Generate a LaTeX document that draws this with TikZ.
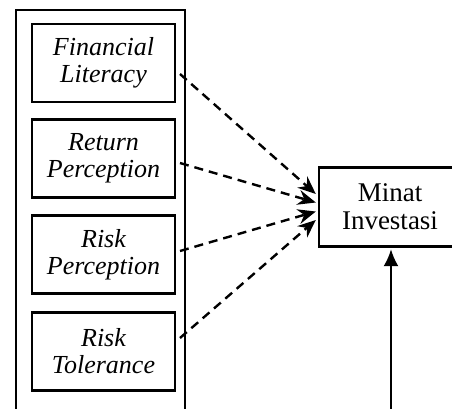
\documentclass[tikz,border=0pt]{standalone}
\usepackage{fontspec}
\setmainfont{Liberation Serif}
\usetikzlibrary{arrows.meta}
\begin{document}
\begin{tikzpicture}[x=1pt,y=-1pt,
  inner/.style={draw, line width=2.4pt, minimum width=143pt, minimum height=78pt, align=center, inner sep=0pt, font=\fontsize{26}{27}\selectfont\itshape},
  target/.style={draw, line width=2.4pt, minimum width=142pt, minimum height=79pt, align=center, inner sep=0pt, font=\fontsize{27}{28}\selectfont},
  frame/.style={draw, line width=2.4pt, minimum width=169pt, minimum height=420pt, anchor=north west, inner sep=0pt},
  dasharrow/.style={line width=2.4pt, dash pattern=on 9pt off 6pt, -{Stealth[length=18pt,width=15pt,inset=6pt]}},
  solidarrow/.style={line width=2pt, -{Latex[length=17pt,width=15pt]}}]
\useasboundingbox (0,0) rectangle (452,408);
\clip (0,0) rectangle (452,408);
\node[frame] (outer) at (15,9) {};
\node[inner] (b1) at (103.5,63) {Financial\\Literacy};
\node[inner] (b2) at (103.5,158.5) {Return\\Perception};
\node[inner] (b3) at (103.5,254.5) {Risk\\Perception};
\node[inner] (b4) at (103.5,351.5) {Risk\\Tolerance};
\node[target] (m) at (390,207) {Minat\\Investasi};
\coordinate (s1) at (180,74);
\coordinate (s2) at (180,163);
\coordinate (s3) at (180,251);
\coordinate (s4) at (180,338);
\draw[dasharrow] (s1) -- ([shift={(-2,-13)}]m.west);
\draw[dasharrow] (s2) -- ([shift={(-2,-4.5)}]m.west);
\draw[dasharrow] (s3) -- ([shift={(-2,4.5)}]m.west);
\draw[dasharrow] (s4) -- ([shift={(-2,13)}]m.west);
\coordinate (v) at (391,415);
\draw[solidarrow] (v) -- ([yshift=-1.5pt]v |- m.south);
\end{tikzpicture}
\end{document}
